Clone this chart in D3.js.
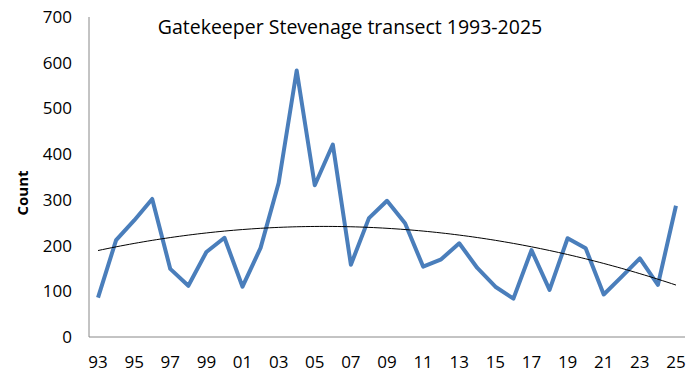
<!DOCTYPE html>
<html>
<head>
<meta charset="utf-8">
<script src="https://cdn.jsdelivr.net/npm/d3@7"></script>
<style>
  body { margin: 0; background: #fff; }
  svg text { font-family: "Open Sans", "Liberation Sans", sans-serif; fill: #000; }
</style>
</head>
<body>
<svg id="chart" width="696" height="376"></svg>
<script>
// survey years (two-digit labels) and annual counts
const years = [
  '93', '94', '95', '96', '97', '98', '99', '00', '01', '02', '03',
  '04', '05', '06', '07', '08', '09', '10', '11', '12', '13', '14',
  '15', '16', '17', '18', '19', '20', '21', '22', '23', '24', '25',
];
const counts = [
  86, 212, 255, 302, 149, 112, 186, 217, 110, 195, 337,
  583, 332, 421, 158, 260, 298, 249, 154, 170, 205, 151,
  110, 84, 190, 103, 216, 194, 93, 132, 172, 114, 287,
];
const yTicks = [0, 100, 200, 300, 400, 500, 600, 700];
const xLabels = years.filter((d, i) => i % 2 === 0);

const svg = d3.select('#chart');
const margin = { top: 17, right: 11, bottom: 39, left: 89 };
const width = 696 - margin.left - margin.right;
const height = 376 - margin.top - margin.bottom;

const x = d3.scaleBand().domain(years).range([0, width]);
const y = d3.scaleLinear().domain([0, 700]).range([height, 0]);
const cx = (d) => x(d) + x.bandwidth() / 2;

const g = svg.append('g')
  .attr('transform', `translate(${margin.left},${margin.top})`);

// axes lines
g.append('line')
  .attr('x1', 0).attr('x2', 0)
  .attr('y1', 0).attr('y2', height)
  .attr('stroke', '#888').attr('stroke-width', 1);
g.append('line')
  .attr('x1', 0).attr('x2', width)
  .attr('y1', height).attr('y2', height)
  .attr('stroke', '#888').attr('stroke-width', 1);

// y tick labels
g.selectAll('.ytick')
  .data(yTicks)
  .join('text')
    .attr('class', 'ytick')
    .attr('x', -17)
    .attr('y', (d) => y(d))
    .attr('dy', '0.35em')
    .attr('text-anchor', 'end')
    .style('font-size', '17px')
    .text((d) => d);

// x tick labels
g.selectAll('.xtick')
  .data(xLabels)
  .join('text')
    .attr('class', 'xtick')
    .attr('x', (d) => cx(d))
    .attr('y', height + 31)
    .attr('text-anchor', 'middle')
    .style('font-size', '17px')
    .text((d) => d);

// y axis title
svg.append('text')
  .attr('transform', 'translate(28,193) rotate(-90)')
  .attr('text-anchor', 'middle')
  .style('font-size', '15px')
  .style('font-weight', 'bold')
  .text('Count');

// chart title
svg.append('text')
  .attr('x', 350)
  .attr('y', 34)
  .attr('text-anchor', 'middle')
  .style('font-size', '19.5px')
  .text('Gatekeeper Stevenage transect 1993-2025');

// main series
const line = d3.line()
  .x((d, i) => cx(years[i]))
  .y((d) => y(d));

g.append('path')
  .datum(counts)
  .attr('fill', 'none')
  .attr('stroke', '#4a7ebb')
  .attr('stroke-width', 4)
  .attr('stroke-linejoin', 'round')
  .attr('d', line);

// polynomial (order 2) trend line fitted to the counts
function quadFit(vals) {
  const s = [0, 0, 0, 0, 0];
  const t = [0, 0, 0];
  vals.forEach((v, i) => {
    const xi = i + 1;
    for (let k = 0; k < 5; k++) s[k] += xi ** k;
    for (let k = 0; k < 3; k++) t[k] += v * xi ** k;
  });
  // solve 3x3 normal equations
  const m = [
    [s[0], s[1], s[2], t[0]],
    [s[1], s[2], s[3], t[1]],
    [s[2], s[3], s[4], t[2]],
  ];
  for (let c = 0; c < 3; c++) {
    for (let r = c + 1; r < 3; r++) {
      const f = m[r][c] / m[c][c];
      for (let k = c; k < 4; k++) m[r][k] -= f * m[c][k];
    }
  }
  const b = [0, 0, 0];
  for (let r = 2; r >= 0; r--) {
    let acc = m[r][3];
    for (let k = r + 1; k < 3; k++) acc -= m[r][k] * b[k];
    b[r] = acc / m[r][r];
  }
  return (xi) => b[0] + b[1] * xi + b[2] * xi * xi;
}
const trend = quadFit(counts);
const trendPts = d3.range(0, counts.length - 1 + 0.001, 0.25);

g.append('path')
  .datum(trendPts)
  .attr('fill', 'none')
  .attr('stroke', '#000')
  .attr('stroke-width', 1)
  .attr('d', d3.line()
    .x((d) => cx(years[0]) + d * x.step())
    .y((d) => y(trend(d + 1))));
</script>
</body>
</html>
